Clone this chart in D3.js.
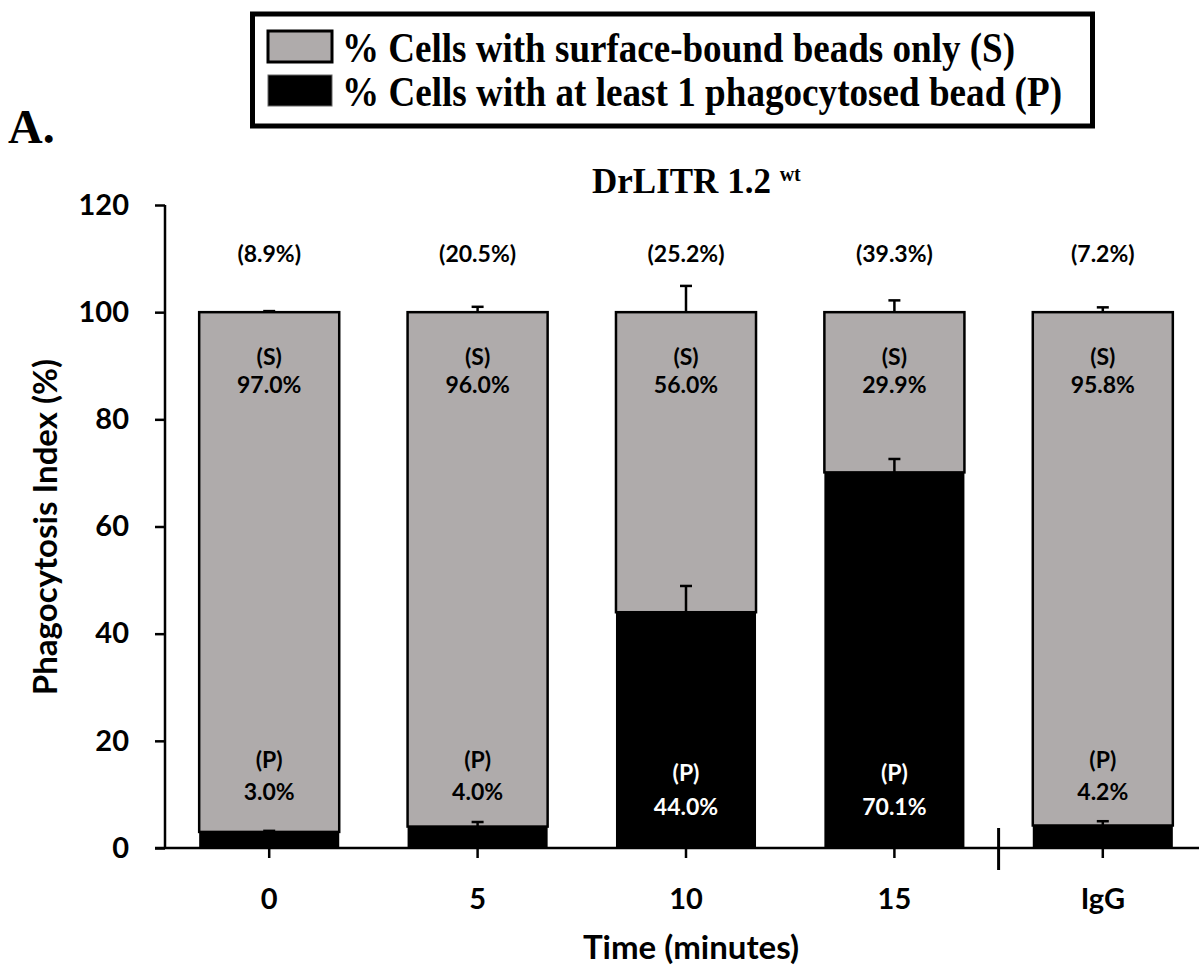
<!DOCTYPE html>
<html>
<head>
<meta charset="utf-8">
<script src="https://cdn.jsdelivr.net/npm/d3@7"></script>
<style>
  body { margin: 0; background: #fff; }
  svg { display: block; }
</style>
</head>
<body>
<svg id="chart" width="1199" height="971"></svg>
<script>
const categories = ["0", "5", "10", "15", "IgG"];
const phagocytosed = [3.0, 4.0, 44.0, 70.1, 4.2];
const surfaceOnly = [97.0, 96.0, 56.0, 29.9, 95.8];
const phagoErr = [0.2, 0.85, 4.9, 2.5, 0.8];
const surfaceErr = [0.2, 1.0, 4.9, 2.2, 0.9];
const topPct = [8.9, 20.5, 25.2, 39.3, 7.2];
const yTicks = [0, 20, 40, 60, 80, 100, 120];
const legendLabels = [
  "% Cells with surface-bound beads only (S)",
  "% Cells with at least 1 phagocytosed bead (P)"
];

const GRAY = "#afabab";
const sans = "Lato, 'Open Sans', sans-serif";
const serif = "'Liberation Serif', 'Times New Roman', serif";

const svg = d3.select("#chart");

const x = d3.scaleBand().domain(categories).range([165, 1207])
  .paddingInner(0.328).paddingOuter(0.164);
const y = d3.scaleLinear().domain([0, 120]).range([848, 205]);

const rows = categories.map((c, i) => ({
  cat: c, p: phagocytosed[i], s: surfaceOnly[i],
  pe: phagoErr[i], se: surfaceErr[i], top: topPct[i]
}));

// bars: surface-only stacked on phagocytosed
const g = svg.append("g");
g.selectAll("rect.s").data(rows).join("rect")
  .attr("class", "s")
  .attr("x", d => x(d.cat))
  .attr("y", d => y(d.p + d.s))
  .attr("width", x.bandwidth())
  .attr("height", d => y(d.p) - y(d.p + d.s))
  .attr("fill", GRAY).attr("stroke", "#000").attr("stroke-width", 2.5);

g.selectAll("rect.p").data(rows).join("rect")
  .attr("class", "p")
  .attr("x", d => x(d.cat))
  .attr("y", d => y(d.p))
  .attr("width", x.bandwidth())
  .attr("height", d => y(0) - y(d.p))
  .attr("fill", "#000");

// error bars (upper only)
function errBars(cls, base, err) {
  const eb = g.selectAll("g." + cls).data(rows).join("g").attr("class", cls)
    .attr("stroke", "#000").attr("stroke-width", 2.5);
  eb.append("line")
    .attr("x1", d => x(d.cat) + x.bandwidth() / 2)
    .attr("x2", d => x(d.cat) + x.bandwidth() / 2)
    .attr("y1", d => y(base(d)))
    .attr("y2", d => y(base(d) + err(d)));
  eb.append("line")
    .attr("x1", d => x(d.cat) + x.bandwidth() / 2 - 6)
    .attr("x2", d => x(d.cat) + x.bandwidth() / 2 + 6)
    .attr("y1", d => y(base(d) + err(d)))
    .attr("y2", d => y(base(d) + err(d)));
}
errBars("ep", d => d.p, d => d.pe);
errBars("es", d => d.p + d.s, d => d.se);

// y axis
const yAxis = svg.append("g").attr("transform", "translate(165,0)")
  .call(d3.axisLeft(y).tickValues(yTicks).tickSize(10).tickPadding(26));
yAxis.select(".domain").attr("stroke-width", 2.5).attr("d", "M0,205V848");
yAxis.selectAll(".tick line").attr("stroke-width", 2.5);
yAxis.selectAll("text").attr("font-family", sans).attr("font-weight", "bold")
  .attr("font-size", 29).attr("fill", "#000");

// x axis
const xAxis = svg.append("g").attr("transform", "translate(0,848)")
  .call(d3.axisBottom(x).tickSize(10).tickSizeOuter(0).tickPadding(30));
xAxis.select(".domain").remove();
xAxis.selectAll(".tick line").attr("stroke-width", 2.5);
xAxis.selectAll("text").attr("font-family", sans).attr("font-weight", "bold")
  .attr("font-size", 29).attr("fill", "#000");
svg.append("line").attr("x1", 155).attr("x2", 1207).attr("y1", 848).attr("y2", 848)
  .attr("stroke", "#000").attr("stroke-width", 2.5);

// separator between time points and IgG control
const sepX = (x("15") + x("IgG") + x.bandwidth()) / 2;
svg.append("line").attr("x1", sepX).attr("x2", sepX)
  .attr("y1", 828).attr("y2", 870)
  .attr("stroke", "#000").attr("stroke-width", 3);

// labels
const lab = svg.append("g").attr("font-family", sans).attr("font-weight", "bold")
  .attr("font-size", 23).attr("text-anchor", "middle");
const cx = d => x(d.cat) + x.bandwidth() / 2;
lab.selectAll("text.top").data(rows).join("text").attr("class", "top")
  .attr("x", cx).attr("y", 262).text(d => `(${d.top.toFixed(1)}%)`);
lab.selectAll("text.sl").data(rows).join("text").attr("class", "sl")
  .attr("x", cx).attr("y", 365).text("(S)");
lab.selectAll("text.sv").data(rows).join("text").attr("class", "sv")
  .attr("x", cx).attr("y", 393).text(d => d.s.toFixed(1) + "%");
lab.selectAll("text.pl").data(rows).join("text").attr("class", "pl")
  .attr("x", cx).attr("y", d => d.p > 20 ? 781 : 768)
  .attr("fill", d => d.p > 20 ? "#fff" : "#000").text("(P)");
lab.selectAll("text.pv").data(rows).join("text").attr("class", "pv")
  .attr("x", cx).attr("y", d => d.p > 20 ? 815 : 800)
  .attr("fill", d => d.p > 20 ? "#fff" : "#000").text(d => d.p.toFixed(1) + "%");

// axis titles
svg.append("text").attr("transform", "translate(57,527) rotate(-90)")
  .attr("text-anchor", "middle").attr("font-family", sans).attr("font-weight", "bold")
  .attr("font-size", 33).text("Phagocytosis Index (%)");
svg.append("text").attr("x", 691).attr("y", 959)
  .attr("text-anchor", "middle").attr("font-family", sans).attr("font-weight", "bold")
  .attr("font-size", 33).text("Time (minutes)");

// chart title with superscript
const title = svg.append("text").attr("x", 592).attr("y", 193)
  .attr("font-family", serif).attr("font-weight", "bold").attr("font-size", 35);
title.append("tspan").text("DrLITR 1.2 ");
title.append("tspan").attr("font-size", 20).attr("dy", -12).text("wt");

// panel letter
svg.append("text").attr("x", 8).attr("y", 143)
  .attr("font-family", serif).attr("font-weight", "bold").attr("font-size", 48).text("A.");

// legend
svg.append("rect").attr("x", 252.5).attr("y", 14).attr("width", 840).attr("height", 112)
  .attr("fill", "#fff").attr("stroke", "#000").attr("stroke-width", 5);
const lg = svg.append("g");
const legendFills = [GRAY, "#000"];
const legendWidths = [673, 720];
legendLabels.forEach((t, i) => {
  lg.append("rect").attr("x", 268).attr("y", 31 + i * 44).attr("width", 64).attr("height", 31)
    .attr("fill", legendFills[i]).attr("stroke", i === 0 ? "#000" : "#666")
    .attr("stroke-width", i === 0 ? 3 : 1);
  lg.append("text").attr("x", 342).attr("y", 62 + i * 44)
    .attr("font-family", serif).attr("font-weight", "bold").attr("font-size", 42)
    .attr("textLength", legendWidths[i]).attr("lengthAdjust", "spacingAndGlyphs")
    .text(t);
});
</script>
</body>
</html>
